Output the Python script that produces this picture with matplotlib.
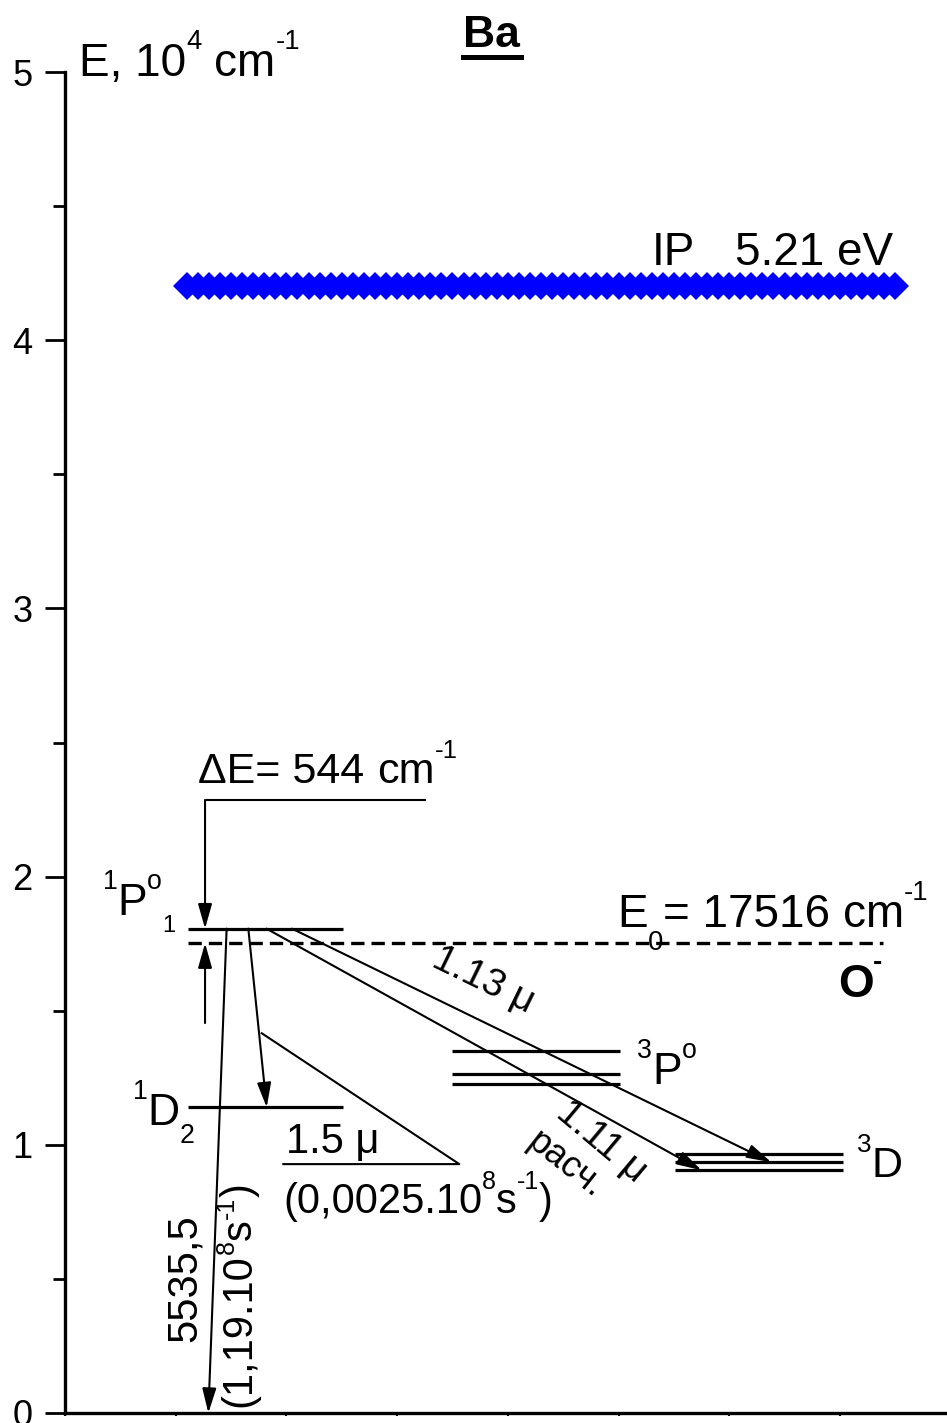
import matplotlib
matplotlib.use('Agg')
import matplotlib.pyplot as plt
from matplotlib.lines import Line2D
from matplotlib.ticker import MultipleLocator, NullFormatter
from matplotlib.transforms import offset_copy
import numpy as np

plt.rcParams['font.family'] = 'Liberation Sans'

# energies in cm^-1
IP_EV = 5.21
IP_CM = 42035
E0_CM = 17516
DELTA_E_CM = 544
E_1P1 = 18060
E_1D2 = 11395
E_3P = [12266, 12637, 13515]
E_3D = [9050, 9350, 9640]
E_GROUND = 0

SCALE = 1e4  # axis in 10^4 cm^-1

# layout (x in axis units)
X_SINGLET = (1.11, 2.51)
X_3P = (3.50, 5.01)
X_3D = (5.51, 7.03)
X_E0 = (1.11, 7.39)
X_IP = (1.1, 7.5)
N_IP_MARKERS = 65

LEVEL_LW = 2.3
TRANS_LW = 1.5
ARROW = '-|>,head_length=0.6,head_width=0.17'
SUP = 0.6


def e(v):
    return v / SCALE


def arrow(ax, x0, y0, x1, y1):
    ax.annotate('', xy=(x1, y1), xytext=(x0, y0),
                arrowprops=dict(arrowstyle=ARROW, color='black', lw=TRANS_LW,
                                mutation_scale=25, shrinkA=0, shrinkB=0))


fig = plt.figure(figsize=(9.47, 14.23), dpi=100)
ax = fig.add_axes([65 / 947, 10 / 1423, 882 / 947, 1341 / 1423])
ax.set_xlim(0, 882 / 110.7)
ax.set_ylim(0, 5)
renderer = fig.canvas.get_renderer()


def rich(x, y, parts, size, rotation=0, weight='normal', center=False,
         sub_drop=0.4, sup_raise=0.58):
    """parts: list of (text, kind) with kind 'n', 'sup', 'sub' or 'gap' (text = em)."""
    a = np.deg2rad(rotation)
    ux, uy = np.cos(a), np.sin(a)
    vx, vy = -np.sin(a), np.cos(a)
    items = []
    along = 0.0
    for s, kind in parts:
        if kind == 'gap':
            along += s * size
            continue
        fs = size if kind == 'n' else size * SUP
        dv = {'n': 0.0, 'sup': sup_raise * size, 'sub': -sub_drop * size}[kind]
        t = ax.text(0, 0, s, fontsize=fs, fontweight=weight)
        w = t.get_window_extent(renderer).width * 72 / fig.dpi
        t.remove()
        items.append((s, fs, dv, along))
        along += w
    shift = -along / 2 if center else 0.0
    for s, fs, dv, pos in items:
        p = pos + shift
        tr = offset_copy(ax.transData, fig=fig, x=p * ux + dv * vx, y=p * uy + dv * vy,
                         units='points')
        ax.text(x, y, s, fontsize=fs, fontweight=weight, transform=tr, rotation=rotation,
                rotation_mode='anchor', ha='left', va='baseline')


# ionisation potential
ip_x = np.linspace(X_IP[0], X_IP[1], N_IP_MARKERS)
ax.plot(ip_x, np.full_like(ip_x, e(IP_CM)), linestyle='none', marker='D',
        markersize=14, color='#0000FF', markeredgewidth=0)

# levels
ax.hlines(e(E_1P1), *X_SINGLET, color='black', lw=LEVEL_LW)
ax.hlines(e(E_1D2), *X_SINGLET, color='black', lw=LEVEL_LW)
for v in E_3P:
    ax.hlines(e(v), *X_3P, color='black', lw=LEVEL_LW)
for v in E_3D:
    ax.hlines(e(v), *X_3D, color='black', lw=LEVEL_LW)
ax.plot(X_E0, [e(E0_CM)] * 2, color='black', lw=2.4, linestyle=(0, (4, 2.1)))

# transitions
arrow(ax, 1.46, e(E_1P1), 1.295, e(E_GROUND))
arrow(ax, 1.656, e(E_1P1), 1.822, e(E_1D2))
arrow(ax, 1.82, e(E_1P1), 5.75, e(E_3D[0]))
arrow(ax, 2.05, e(E_1P1), 6.38, e(E_3D[1]))

# delta E marker
x_de = 1.265
y_top = 2.286
arrow(ax, x_de, y_top, x_de, e(E_1P1))
ax.plot([x_de + 0.015, 3.25], [y_top, y_top], color='black', lw=TRANS_LW)
arrow(ax, x_de, 1.454, x_de, e(E0_CM))

# 1.5 mu leader
ax.plot([1.777, 3.562, 1.972], [1.416, 0.928, 0.928], color='black', lw=TRANS_LW)

# texts
rich(0.126, 4.985, [('E, 10', 'n'), ('4', 'sup'), (0.28, 'gap'), ('cm', 'n'), ('-1', 'sup')], 33)
ax.text(3.85, 5.093, 'Ba', fontsize=32, fontweight='bold', ha='center', va='baseline')
fig.add_artist(Line2D([463 / 947, 521 / 947], [1 - 57 / 1423] * 2, color='black', lw=3.6))

ax.text(5.30, 4.28, 'IP', fontsize=33, ha='left', va='baseline')
ax.text(6.05, 4.28, f'{IP_EV} eV', fontsize=33, ha='left', va='baseline')

rich(1.20, 2.349, [('ΔE= ' + f'{DELTA_E_CM}', 'n'), (0.3, 'gap'), ('cm', 'n'), ('-1', 'sup')], 31)
rich(0.343, 1.857, [('1', 'sup'), ('P', 'n'), ('o', 'sup')], 32)
ax.text(0.935, 1.814, '1', fontsize=17, ha='center', va='center')
rich(0.614, 1.074, [('1', 'sup'), ('D', 'n'), ('2', 'sub')], 32)
rich(4.986, 1.812, [('E', 'n'), ('0', 'sub'), ('= ' + f'{E0_CM}', 'n'), (0.28, 'gap'),
                    ('cm', 'n'), ('-1', 'sup')], 33, sub_drop=0.5)
rich(6.98, 1.551, [('O', 'n'), ('-', 'sup')], 33, weight='bold')
rich(5.17, 1.227, [('3', 'sup'), ('P', 'n'), ('o', 'sup')], 32)
rich(7.15, 0.88, [('3', 'sup'), ('D', 'n')], 31)

ax.text(2.0, 0.969, '1.5 μ', fontsize=30, ha='left', va='baseline')
rich(1.97, 0.746, [('(0,0025.10', 'n'), ('8', 'sup'), ('s', 'n'), ('-1', 'sup'), (')', 'n')], 30)
rich(1.18, 0.503, [('5535,5', 'n')], 30, rotation=90, center=True)
rich(1.675, 0.44, [('(1,19.10', 'n'), ('8', 'sup'), ('s', 'n'), ('-1', 'sup'), (')', 'n')], 30,
     rotation=90, center=True, sup_raise=0.4)
ax.text(3.775, 1.614, '1.13 μ', fontsize=28, rotation=-26, ha='center', va='center',
        rotation_mode='anchor')
ax.text(4.85, 1.01, '1.11 μ', fontsize=28, rotation=-40, ha='center', va='center',
        rotation_mode='anchor')
ax.text(4.52, 0.925, 'расч.', fontsize=26, rotation=-38, ha='center', va='center',
        rotation_mode='anchor')

# axes styling
for side in ('top', 'right'):
    ax.spines[side].set_visible(False)
ax.spines['left'].set_linewidth(2.4)
ax.spines['bottom'].set_linewidth(2.4)
ax.yaxis.set_major_locator(MultipleLocator(1))
ax.yaxis.set_minor_locator(MultipleLocator(0.5))
ax.xaxis.set_major_locator(MultipleLocator(1))
ax.xaxis.set_major_formatter(NullFormatter())
ax.tick_params(axis='y', which='major', direction='out', length=14.4, width=2,
               labelsize=26, pad=9)
ax.tick_params(axis='y', which='minor', direction='out', length=8.6, width=2)
ax.tick_params(axis='x', which='major', direction='out', length=2, width=1.5)

fig.savefig('out.png', dpi=100)
